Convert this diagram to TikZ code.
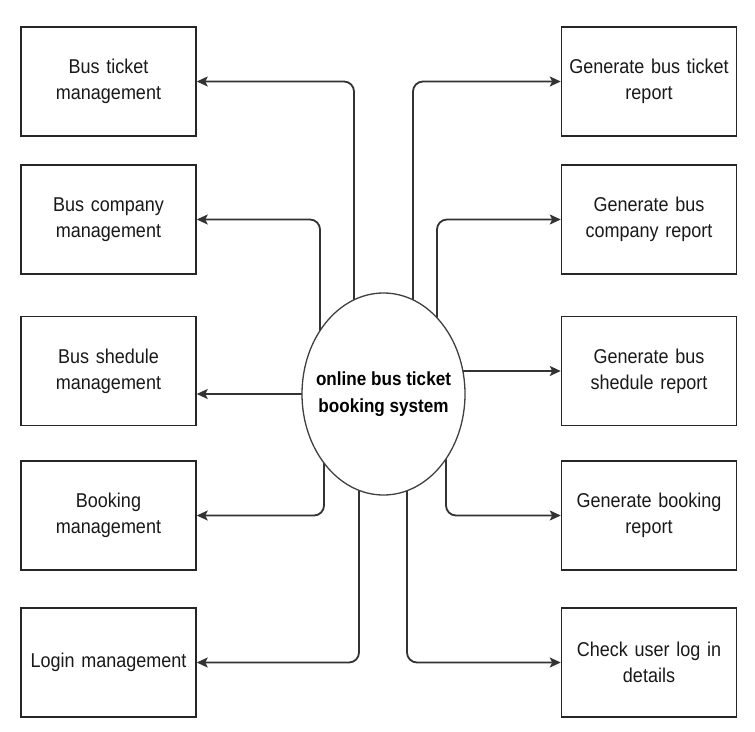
\documentclass[tikz,border=0pt]{standalone}
\usepackage{fontspec}
\setmainfont{Liberation Sans}[FakeStretch=0.9]
\usetikzlibrary{shapes.geometric,arrows.meta,backgrounds}
\begin{document}
\begin{tikzpicture}[x=1pt,y=-1pt,
  box/.style={draw=black!85,line width=1.5pt,minimum width=175pt,minimum height=109pt,
    text width=168pt,align=center,inner sep=0pt,font=\fontsize{20}{26}\selectfont,text=black!90},
  hub/.style={draw=black!75,line width=1.3pt,ellipse,fill=white,minimum width=163pt,minimum height=202pt,
    inner sep=0pt},
  hubtext/.style={align=center,inner sep=0pt,font=\fontsize{19}{27}\selectfont\bfseries,text=black},
  conn/.style={draw=black!80,line width=1.8pt,rounded corners=10pt,
    -{Stealth[length=11pt,width=10pt,inset=2.5pt]}}]
\useasboundingbox (0,0) rectangle (755,731);
\node[box] (L1) at (108.5,81.5) {Bus ticket\\management};
\node[box] (L2) at (108.5,219.5) {Bus company\\management};
\node[box] (L3) at (108.5,371) {Bus shedule\\management};
\node[box] (L4) at (108.5,515.5) {Booking\\management};
\node[box] (L5) at (108.5,662.5) {Login management};
\node[box] (R1) at (649,81.5) {Generate bus ticket\\report};
\node[box] (R2) at (649,219.5) {Generate bus\\company report};
\node[box] (R3) at (649,371) {Generate bus\\shedule report};
\node[box] (R4) at (649,515.5) {Generate booking\\report};
\node[box] (R5) at (649,662.5) {Check user log in\\details};
\node[hub] (c) at (383.5,394) {};
\node[hubtext] (ct) at (c.center) {online bus ticket\\booking system};
\begin{scope}[on background layer]
\fill[white] (0,0) rectangle (755,731);
\draw[conn] ([xshift=-29.5pt]c.center) |- (L1.east);
\draw[conn] ([xshift=-63.5pt]c.center) |- (L2.east);
\draw[conn] (c.center) -- (c.center -| L3.east);
\draw[conn] ([xshift=-59.5pt]c.center) |- (L4.east);
\draw[conn] ([xshift=-24.5pt]c.center) |- (L5.east);
\draw[conn] ([xshift=29.5pt]c.center) |- (R1.west);
\draw[conn] ([xshift=53.5pt]c.center) |- (R2.west);
\draw[conn] (c.center |- R3.west) -- (R3.west);
\draw[conn] ([xshift=62.5pt]c.center) |- (R4.west);
\draw[conn] ([xshift=23.5pt]c.center) |- (R5.west);
\end{scope}
\end{tikzpicture}
\end{document}
